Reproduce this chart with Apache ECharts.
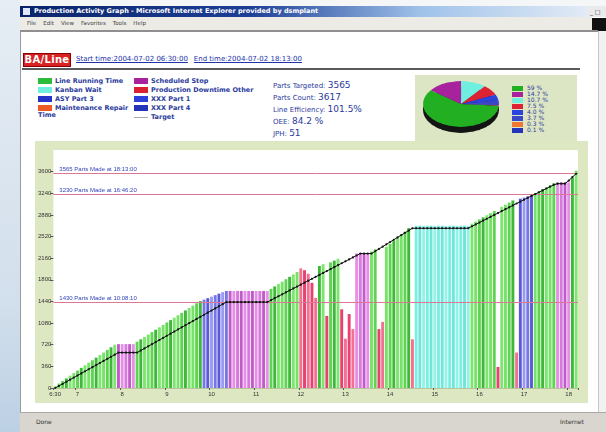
<!DOCTYPE html>
<html>
<head>
<meta charset="utf-8">
<title>Production Activity Graph</title>
<script src="https://cdn.jsdelivr.net/npm/echarts@6/dist/echarts.min.js"></script>
<style>
  html, body { margin: 0; padding: 0; width: 606px; height: 432px; overflow: hidden; background: #fff; font-family: "DejaVu Sans", Verdana, sans-serif; }
  .abs { position: absolute; }
  #desk { left: 0; top: 0; width: 20px; height: 432px; background: linear-gradient(#e6edf4, #d2dfec 70%, #bcd0e4); }
  #topstrip { left: 20px; top: 0; width: 586px; height: 6px; background: #f4f6f8; }
  #titlebar { left: 20px; top: 6px; width: 572px; height: 11px; background: linear-gradient(to right, #0a246a 0%, #1c3f96 40%, #9fc2ea 70%, #e4ecf6 100%); color: #fff; font-size: 6.5px; font-weight: bold; line-height: 11px; padding-left: 14px; box-sizing: border-box; white-space: nowrap; }
  #ticon { left: 23px; top: 8px; width: 7px; height: 7px; background: #dfe8f8; }
  #tbtn { left: 588px; top: 6px; width: 18px; height: 11px; background: #e8eaec; color: #333; font-size: 6px; line-height: 11px; }
  #menubar { left: 20px; top: 17px; width: 572px; height: 13px; background: #ecebe6; color: #444; font-size: 5.5px; line-height: 13px; white-space: nowrap; }
  #menubar span { margin-left: 7px; }
  #throbber { left: 592px; top: 18px; width: 14px; height: 13px; background: #111; }
  #content { left: 20px; top: 30px; width: 578px; height: 382px; background: #fff; border-left: 1px solid #9a9a9a; border-top: 2px solid #8f8f8f; box-sizing: border-box; }
  #scroll { left: 598px; top: 31px; width: 8px; height: 381px; background: #f1f1f1; border-left: 1px solid #c8c8c8; box-sizing: border-box; }
  #status { left: 20px; top: 412px; width: 586px; height: 20px; background: #d9d6d0; border-top: 1px solid #aaa; box-sizing: border-box; font-size: 6px; color: #333; line-height: 18px; }
  #badge { left: 23px; top: 53px; width: 48px; height: 14px; background: #d62222; border: 1px solid #8a0000; box-sizing: border-box; color: #fff; font-size: 10px; font-weight: bold; line-height: 12px; text-align: center; letter-spacing: 0.3px; }
  #period { left: 76px; top: 55px; font-size: 7px; color: #2233aa; white-space: nowrap; }
  #period u { margin-right: 6px; }
  #rule { left: 22px; top: 68px; width: 558px; height: 2px; background: #5a5a5a; }
  .leg { font-size: 6.5px; font-weight: bold; color: #2a3a9c; white-space: nowrap; line-height: 9px; }
  .leg .row { height: 9px; position: relative; padding-left: 17px; }
  .leg .sw { position: absolute; left: 0; top: 1px; width: 14px; height: 6px; }
  .leg .ln { position: absolute; left: 0; top: 4px; width: 14px; height: 1px; background: #aaa; }
  #stats { left: 273px; top: 80px; color: #2a3a9c; font-size: 7px; line-height: 11px; white-space: nowrap; }
  #stats .v { font-size: 9px; }
  #piebox { left: 415px; top: 75px; width: 162px; height: 66px; background: #dde6c4; }
  #pie { left: 416px; top: 62px; width: 90px; height: 90px; transform: scaleY(0.6); transform-origin: 50% 50%; }
  #pieleg { left: 512px; top: 85px; font-size: 6px; color: #2a3a9c; line-height: 6px; white-space: nowrap; }
  #pieleg .row { position: relative; height: 6px; padding-left: 15px; }
  #pieleg .sw { position: absolute; left: 0; top: 0.5px; width: 11px; height: 5px; }
  #chart { left: 35px; top: 141px; width: 553px; height: 262px; background: #dde8c2; }
</style>
</head>
<body>
<div id="desk" class="abs"></div>
<div id="topstrip" class="abs"></div>
<div id="titlebar" class="abs">Production Activity Graph - Microsoft Internet Explorer provided by dsmplant</div>
<div id="ticon" class="abs"></div>
<div id="tbtn" class="abs">&nbsp;_ &#9633; &#215;</div>
<div id="menubar" class="abs"><span>File</span><span>Edit</span><span>View</span><span>Favorites</span><span>Tools</span><span>Help</span></div>
<div id="throbber" class="abs"></div>
<div id="content" class="abs"></div>
<div id="scroll" class="abs"></div>
<div id="status" class="abs"><span style="margin-left:16px">Done</span><span style="position:absolute;left:540px">Internet</span></div>

<div id="badge" class="abs">BA/Line</div>
<div id="period" class="abs"></div>
<div id="rule" class="abs"></div>
<div id="leg1" class="abs leg" style="left:38px;top:77px;"></div>
<div id="leg2" class="abs leg" style="left:134px;top:77px;"></div>
<div id="stats" class="abs"></div>
<div id="piebox" class="abs"></div>
<div id="pie" class="abs"></div>
<div id="pieleg" class="abs"></div>
<div id="chart" class="abs"></div>

<script>
// ---- header data ----
const lineName = 'BA/Line';
const startTime = '2004-07-02 06:30:00';
const endTime = '2004-07-02 18:13:00';
const statLabels = ['Parts Targeted:', 'Parts Count:', 'Line Efficiency:', 'OEE:', 'JPH:'];
const statValues = ['3565', '3617', '101.5%', '84.2 %', '51'];

// ---- legend ----
const legendLeft = ['Line Running Time', 'Kanban Wait', 'ASY Part 3', 'Maintenance Repair'];
const legendRight = ['Scheduled Stop', 'Production Downtime Other', 'XXX Part 1', 'XXX Part 4'];
const legendLeftColors = ['#2dbb3a', '#70eedf', '#2432c8', '#ee5a24'];
const legendRightColors = ['#a8229e', '#d82230', '#2a40d8', '#2434b8'];

// ---- pie (state share) ----
const pieLabels = ['59 %', '14.7 %', '10.7 %', '7.5 %', '4.0 %', '3.7 %', '0.3 %', '0.1 %'];
const pieValues = [59.0, 14.7, 10.7, 7.5, 4.0, 3.7, 0.3, 0.1];
const pieColors = ['#22b022', '#a8229e', '#70eedf', '#dd2233', '#2a44dd', '#3a48c8', '#ee7733', '#2434b8'];

// ---- bar chart: one bar per 5 minutes, 6:30 .. 18:10 ----
const slotTimes = [];
for (let m = 390; m <= 1090; m += 5) slotTimes.push(Math.floor(m / 60) + ':' + String(m % 60).padStart(2, '0'));
const hourSlots = [0, 6, 18, 30, 42, 54, 66, 78, 90, 102, 114, 126, 138];
const hourLabels = ['6:30', '7', '8', '9', '10', '11', '12', '13', '14', '15', '16', '17', '18'];
const yTicks = [0, 360, 720, 1080, 1440, 1800, 2160, 2520, 2880, 3240, 3600];

// state of each slot: G running, M scheduled stop, B part change, C kanban wait, R downtime
const slotStates = (
  'GGGGGGGGGGGGGGGGG' + 'MMMMM' + 'GGGGGGGGGGGGGGGGGG' + 'BBBBBBB' + 'MMMMMMMMMMM' +
  'GGGGGGGG' + 'RRRRR' + 'GG' + 'R' + 'GGG' + 'RRRR' + 'MMMM' + 'GG' + 'RR' + 'GGGGGGG' + 'R' +
  'CCCCCCCCCCCCCCC' + 'GGGGGGG' + 'R' + 'GGGG' + 'R' + 'BBBB' + 'GGGGGG' + 'MMMM' + 'GG'
).split('');

// parts made (bar height) per slot
const partsMade = [
  30, 75, 118, 160, 205, 248, 290, 335, 378, 420, 462, 505, 548, 590, 635, 678, 720,
  730, 730, 730, 730, 730,
  770, 810, 850, 890, 930, 970, 1010, 1050, 1090, 1130, 1170, 1210, 1250, 1290, 1330, 1370, 1410, 1446,
  1470, 1495, 1520, 1545, 1570, 1595, 1615,
  1615, 1615, 1615, 1615, 1615, 1615, 1615, 1615, 1615, 1615, 1615,
  1650, 1690, 1730, 1770, 1810, 1850, 1890, 1930,
  1990, 1960, 1900, 1750, 1500,
  2030, 2060,
  1200,
  2090, 2120, 2150,
  1310, 820, 1230, 980,
  2240, 2240, 2240, 2240,
  2270, 2310,
  980, 1100,
  2350, 2400, 2450, 2500, 2550, 2600, 2660,
  810,
  2700, 2700, 2700, 2700, 2700, 2700, 2700, 2700, 2700, 2700, 2700, 2700, 2700, 2700, 2700,
  2735, 2770, 2805, 2840, 2875, 2910, 2945,
  350,
  3015, 3050, 3085, 3120,
  590,
  3150, 3170, 3190, 3200,
  3235, 3270, 3305, 3340, 3375, 3410,
  3420, 3420, 3420, 3420,
  3500, 3617
];

// target (black line) per slot
const targetParts = [
  0, 35, 69, 104, 139, 173, 208, 243, 277, 312, 347, 381, 416, 451, 485, 520, 555, 589,
  589, 589, 589, 589, 589,
  624, 659, 694, 729, 764, 799, 834, 869, 904, 939, 974, 1009, 1044, 1079, 1114, 1149, 1184, 1219,
  1254, 1289, 1324, 1359, 1394, 1430,
  1430, 1430, 1430, 1430, 1430, 1430, 1430, 1430, 1430, 1430, 1430,
  1462, 1494, 1527, 1559, 1591, 1624, 1656, 1688, 1720, 1753, 1785, 1817, 1850, 1882, 1914, 1946,
  1979, 2011, 2043, 2076, 2108, 2140, 2172, 2205, 2237,
  2237, 2237, 2237,
  2275, 2314, 2352, 2390, 2429, 2467, 2505, 2544, 2582, 2620, 2658,
  2658, 2658, 2658, 2658, 2658, 2658, 2658, 2658, 2658, 2658, 2658, 2658, 2658, 2658, 2658,
  2690, 2721, 2753, 2785, 2816, 2848, 2880, 2911, 2943, 2975, 3006, 3038, 3070, 3101, 3133, 3165, 3196,
  3227, 3257, 3288, 3319, 3350, 3380,
  3400, 3400, 3400,
  3450, 3510, 3565
];

// horizontal marker lines
const markValues = [3565, 3230, 1430];
const markTexts = ['3565 Parts Made at 18:13:00', '3230 Parts Made at 16:46:20', '1430 Parts Made at 10:08:10'];

// ---- header / legend html ----
document.getElementById('badge').textContent = lineName;
document.getElementById('period').innerHTML =
  '<u>Start time:' + startTime + '</u><u>End time:' + endTime + '</u>';

const leg1 = document.getElementById('leg1');
legendLeft.forEach((n, i) => {
  leg1.insertAdjacentHTML('beforeend', '<div class="row"><span class="sw" style="background:' + legendLeftColors[i] + '"></span>' + n + '</div>');
});
leg1.insertAdjacentHTML('beforeend', '<div style="margin-top:-2px">Time</div>');
const leg2 = document.getElementById('leg2');
legendRight.forEach((n, i) => {
  leg2.insertAdjacentHTML('beforeend', '<div class="row"><span class="sw" style="background:' + legendRightColors[i] + '"></span>' + n + '</div>');
});
leg2.insertAdjacentHTML('beforeend', '<div class="row"><span class="ln"></span>Target</div>');

const stats = document.getElementById('stats');
statLabels.forEach((l, i) => {
  stats.insertAdjacentHTML('beforeend', '<div>' + l + ' <span class="v">' + statValues[i] + '</span></div>');
});

const pieleg = document.getElementById('pieleg');
pieLabels.forEach((l, i) => {
  pieleg.insertAdjacentHTML('beforeend', '<div class="row"><span class="sw" style="background:' + pieColors[i] + '"></span>' + l + '</div>');
});

// ---- pie (flattened to look 3D) ----
const pie = echarts.init(document.getElementById('pie'));
pie.setOption({
  animation: false,
  series: [
    {
      type: 'pie', radius: 38, center: [45, 50], startAngle: 355, silent: true,
      label: { show: false }, labelLine: { show: false },
      itemStyle: { color: '#141414' },
      data: pieValues
    },
    {
      type: 'pie', radius: 38, center: [45, 40], startAngle: 355,
      label: { show: false }, labelLine: { show: false },
      data: pieValues.map((v, i) => ({ value: v, itemStyle: { color: pieColors[i] } }))
    }
  ]
});

// ---- main bar chart ----
const stateColors = {
  G: ['#7de66f', '#76e268', '#5fd452', '#3fb83a'],
  M: ['#e68fe8', '#d77ade', '#c05cc8'],
  B: ['#9a9af2', '#7676e6', '#5a5ad8'],
  C: ['#92f3e8', '#7eeee2', '#6fe6da'],
  R: ['#f27090', '#e84070']
};
function barColor(s, i) {
  const c = stateColors[s];
  return c[i % c.length];
}

const chart = echarts.init(document.getElementById('chart'));
chart.setOption({
  animation: false,
  grid: { left: 18, right: 10, top: 9, bottom: 15, show: true, backgroundColor: '#fff', borderWidth: 0 },
  xAxis: {
    type: 'category',
    data: slotTimes,
    axisLine: { show: true, lineStyle: { color: '#b8c49a' } },
    axisTick: { show: true, length: 2, interval: (i) => hourSlots.includes(i), lineStyle: { color: '#555' } },
    axisLabel: {
      interval: (i) => hourSlots.includes(i),
      formatter: (v, i) => hourLabels[hourSlots.indexOf(i)],
      fontSize: 6, color: '#333', margin: 3
    }
  },
  yAxis: {
    type: 'value',
    min: 0, max: 3960, interval: 360,
    splitLine: { show: false },
    axisLine: { show: false },
    axisTick: { show: true, length: 3, lineStyle: { color: '#555' } },
    axisLabel: {
      fontSize: 6, color: '#333', margin: 2, showMaxLabel: false,
      formatter: (v) => (yTicks.includes(v) ? String(v) : '')
    }
  },
  series: [
    {
      type: 'bar',
      barCategoryGap: '22%',
      data: partsMade.map((v, i) => ({ value: v, itemStyle: { color: barColor(slotStates[i], i) } })),
      markLine: {
        silent: true,
        symbol: 'none',
        lineStyle: { color: '#dc7896', width: 1, type: 'solid' },
        label: { position: 'insideStartTop', fontSize: 6, color: '#3344bb', distance: [6, 1] },
        data: markValues.map((v, i) => ({ yAxis: v, label: { formatter: markTexts[i] } }))
      }
    },
    {
      type: 'line',
      data: targetParts,
      symbol: 'circle',
      symbolSize: 2.2,
      showAllSymbol: true,
      lineStyle: { color: '#111', width: 1 },
      itemStyle: { color: '#111' },
      z: 5
    }
  ]
});
</script>
</body>
</html>
